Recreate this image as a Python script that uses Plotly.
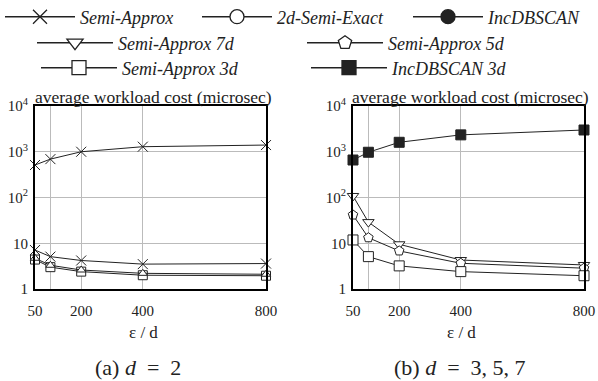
import plotly.graph_objects as go

eps = [50, 100, 200, 400, 800]
x_ticktext = ["50", "", "200", "400", "800"]
y_tickvals = [1, 10, 100, 1000, 10000]
y_ticktext = ["1", "10", "10<sup>2</sup>", "10<sup>3</sup>", "10<sup>4</sup>"]

# panel (a) d = 2
a_semi_approx_hi = [513, 690, 1000, 1290, 1400]
a_semi_approx = [7.1, 5.1, 4.2, 3.5, 3.6]
a_semi_exact = [4.4, 3.0, 2.4, 2.0, 1.95]
a_semi_approx_low = [4.7, 3.3, 2.6, 2.2, 2.1]

# panel (b) d = 3,5,7
b_inc3d = [660, 975, 1610, 2340, 2990]
b_semi7d = [108, 29, 9.5, 4.3, 3.35]
b_semi5d = [41.5, 13.2, 6.8, 3.65, 2.85]
b_semi3d = [11.8, 5.1, 3.2, 2.4, 1.95]

FONT = "Liberation Serif"
LC = "#222"

fig = go.Figure()

def add(x, y, name, symbol, xa, ya, fill="white", size=9):
    fig.add_trace(go.Scatter(
        x=x, y=y, name=name, mode="lines+markers",
        line=dict(color=LC, width=1),
        marker=dict(symbol=symbol, size=size, color=fill, line=dict(color=LC, width=1)),
        xaxis=xa, yaxis=ya, showlegend=False, cliponaxis=False))

# left panel
add(eps, a_semi_approx_hi, "Semi-Approx", "x-thin", "x", "y", size=10)
add(eps, a_semi_approx, "Semi-Approx", "x-thin", "x", "y", size=10)
add(eps, a_semi_exact, "Semi-Approx 3d", "square", "x", "y")
add(eps, a_semi_approx_low, "Semi-Approx 7d", "triangle-up", "x", "y", size=8)

# right panel
add(eps, b_inc3d, "IncDBSCAN 3d", "square", "x2", "y2", fill=LC, size=10)
add(eps, b_semi7d, "Semi-Approx 7d", "triangle-down", "x2", "y2", size=10)
add(eps, b_semi5d, "Semi-Approx 5d", "pentagon", "x2", "y2", size=10)
add(eps, b_semi3d, "Semi-Approx 3d", "square", "x2", "y2", size=10)

# legend-only traces
def leg(name, symbol, legend, fill="white", size=14, lw=None):
    fig.add_trace(go.Scatter(
        x=[None], y=[None], name="<i>" + name + "</i>", mode="lines+markers",
        line=dict(color=LC, width=1.5),
        marker=dict(symbol=symbol, size=size, color=fill, line=dict(color=LC, width=1.3)),
        xaxis="x", yaxis="y", showlegend=True, legend=legend, legendwidth=lw))

leg("Semi-Approx", "x-thin", "legend", lw=112)
leg("2d-Semi-Exact", "circle", "legend", lw=126)
leg("IncDBSCAN", "circle", "legend", fill=LC, lw=95)
leg("Semi-Approx 7d", "triangle-down", "legend2", lw=179)
leg("Semi-Approx 5d", "pentagon", "legend2", lw=140)
leg("Semi-Approx 3d", "square", "legend3", lw=179)
leg("IncDBSCAN 3d", "square", "legend3", fill=LC, lw=130)

W, H = 598, 381
ytop, ybot = 1 - 106 / H, 1 - 289 / H

axis_common = dict(showgrid=True, gridcolor="#bbb", gridwidth=1, showline=True,
                   linecolor="black", linewidth=2, mirror=True,
                   tickfont=dict(family=FONT, size=15, color="#222"), zeroline=False)
xtick = dict(ticks="outside", ticklen=7, tickcolor="rgba(0,0,0,0)")
ytick = dict(ticks="outside", ticklen=2, tickcolor="rgba(0,0,0,0)")

LF = dict(family=FONT, size=18, color="#222")

fig.update_layout(
    width=W, height=H, margin=dict(l=0, r=0, t=0, b=0, autoexpand=False),
    paper_bgcolor="white", plot_bgcolor="white",
    font=dict(family=FONT, color="#222"),
    xaxis=dict(domain=[35 / W, 266 / W], range=[50, 800], tickvals=eps, ticktext=x_ticktext,
               anchor="y", **axis_common, **xtick),
    yaxis=dict(domain=[ybot, ytop], type="log", range=[0, 4], tickvals=y_tickvals,
               ticktext=y_ticktext, anchor="x", **axis_common, **ytick),
    xaxis2=dict(domain=[353 / W, 584 / W], range=[50, 800], tickvals=eps, ticktext=x_ticktext,
                anchor="y2", **axis_common, **xtick),
    yaxis2=dict(domain=[ybot, ytop], type="log", range=[0, 4], tickvals=y_tickvals,
                ticktext=y_ticktext, anchor="x2", **axis_common, **ytick),
    legend=dict(orientation="h", x=0, y=1 - 17 / H, xanchor="left", yanchor="middle",
                itemwidth=70, font=LF, bgcolor="rgba(0,0,0,0)", itemclick=False),
    legend2=dict(orientation="h", x=32 / W, y=1 - 43 / H, xanchor="left", yanchor="middle",
                 itemwidth=76, font=LF, bgcolor="rgba(0,0,0,0)"),
    legend3=dict(orientation="h", x=36 / W, y=1 - 68 / H, xanchor="left", yanchor="middle",
                 itemwidth=76, font=LF, bgcolor="rgba(0,0,0,0)"),
)

def ann(text, xc, yc, size):
    fig.add_annotation(text=text, x=xc / W, y=1 - yc / H, xref="paper", yref="paper",
                       xanchor="center", yanchor="middle", showarrow=False,
                       font=dict(family=FONT, size=size, color="#222"))

ann("average workload cost (microsec)", 153, 97, 17.5)
ann("average workload cost (microsec)", 470, 97, 17.5)
ann("ε / d", 143, 332, 17)
ann("ε / d", 461, 332, 17)
ann("(a) <i>d</i>&nbsp;&nbsp;=&nbsp;&nbsp;2", 138, 367, 22)
ann("(b) <i>d</i>&nbsp;&nbsp;=&nbsp;&nbsp;3,&nbsp;5,&nbsp;7", 460, 367, 22)

fig.write_html("out.html")
